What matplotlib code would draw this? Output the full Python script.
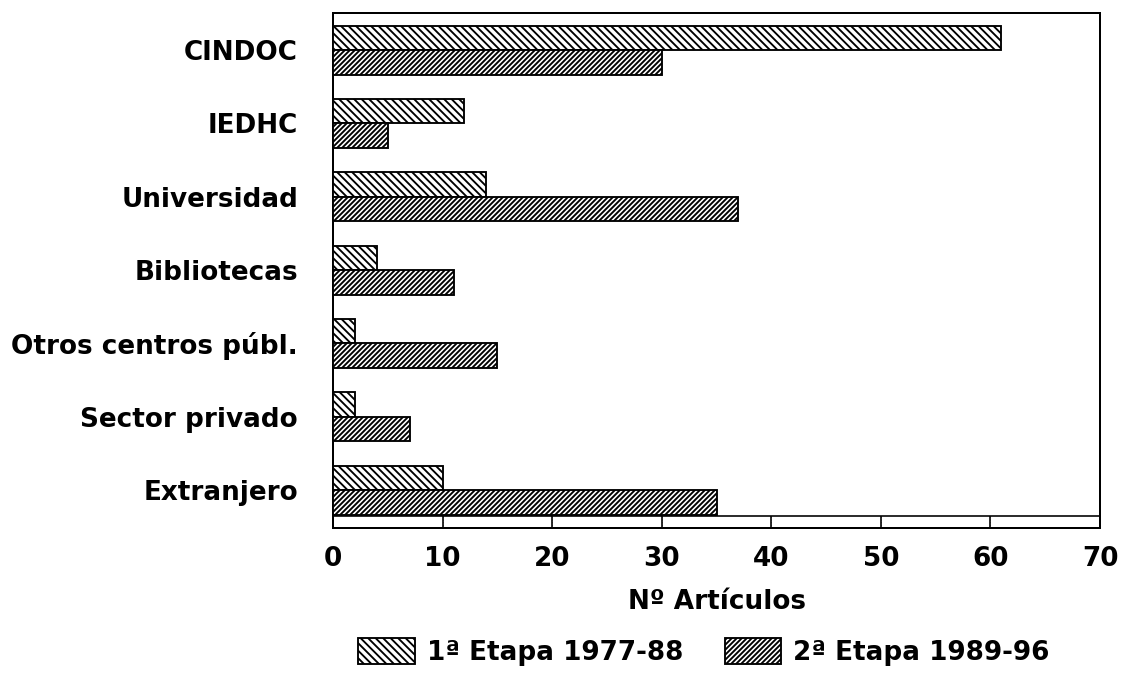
import matplotlib
matplotlib.use("Agg")
import matplotlib.pyplot as plt
import numpy as np

# ---------------------------------------------------------------------------
# Data
# ---------------------------------------------------------------------------

categories = ["CINDOC", "IEDHC", "Universidad", "Bibliotecas",
              "Otros centros públ.", "Sector privado", "Extranjero"]
etapa1 = [61, 12, 14, 4, 2, 2, 10]
etapa2 = [30, 5, 37, 11, 15, 7, 35]
series_labels = ["1ª Etapa 1977-88", "2ª Etapa 1989-96"]
xticks = [0, 10, 20, 30, 40, 50, 60, 70]

# ---------------------------------------------------------------------------
# Style
# ---------------------------------------------------------------------------

DPI = 90
plt.rcParams["font.family"] = ["DejaVu Sans"]
plt.rcParams["font.weight"] = "bold"
plt.rcParams["hatch.linewidth"] = 1.5
plt.rcParams["hatch.color"] = "black"

FS = 21

fig = plt.figure(figsize=(1121 / DPI, 676 / DPI), dpi=DPI)
ax = fig.add_axes([333 / 1121, 1 - 528 / 676, (1100 - 333) / 1121, (528 - 13) / 676])

y = np.arange(len(categories))
h = 0.334

ax.barh(y - h / 2, etapa1, h, color="white", edgecolor="black",
        linewidth=1.5, hatch="\\\\\\\\", label=series_labels[0], zorder=3)
ax.barh(y + h / 2, etapa2, h, color="white", edgecolor="black",
        linewidth=1.5, hatch="//////", label=series_labels[1], zorder=3)

ax.set_ylim(6.518, -0.505)
ax.set_xlim(0, 70)

ax.set_yticks(y)
ax.set_yticklabels(categories, fontsize=FS, fontweight="bold")
ax.tick_params(axis="y", length=0, pad=28)

ax.set_xticks(xticks)
ax.set_xticklabels([str(t) for t in xticks], fontsize=FS, fontweight="bold")
ax.tick_params(axis="x", direction="in", length=9.6, width=1.3, pad=14)

# strip above the tick band
ax.axhline(6.355, color="black", linewidth=1.3, zorder=4)

for t in xticks[1:-1]:
    ax.axvline(t, ymax=1 - (6.355 + 0.505) / (6.518 + 0.505), color="#9a9a9a",
               linestyle=":", linewidth=0.8, zorder=1)

for s in ax.spines.values():
    s.set_linewidth(1.6)

ax.set_xlabel("Nº Artículos", fontsize=FS, fontweight="bold", labelpad=14)

fig.legend(loc="center", bbox_to_anchor=(704 / 1121, 1 - 652 / 676), ncol=2,
           frameon=False, handlelength=2.15, handleheight=1.15,
           handletextpad=0.45, columnspacing=1.6,
           prop={"size": FS, "weight": "bold"})

plt.savefig("out.png", dpi=DPI)
